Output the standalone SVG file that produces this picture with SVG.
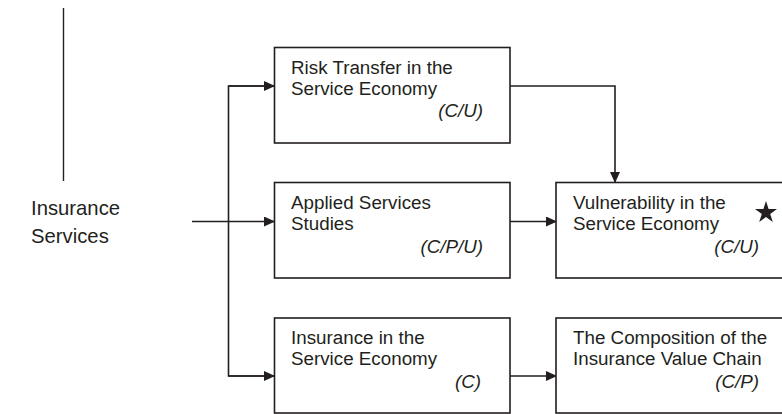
<svg xmlns="http://www.w3.org/2000/svg" width="782" height="414" viewBox="0 0 782 414">
<defs>
<marker id="ah" markerWidth="10" markerHeight="10" refX="10" refY="5" orient="auto" markerUnits="userSpaceOnUse">
<path d="M0,0 L11,5 L0,10 Z" fill="#231f20"/>
</marker>
<style>
.box{fill:#fff;stroke:#231f20;stroke-width:1.6}
.t{font-family:"Liberation Sans",Arial,sans-serif;font-size:18.8px;fill:#231f20}
.i{font-family:"Liberation Sans",Arial,sans-serif;font-size:18.8px;font-style:italic;fill:#231f20;text-anchor:end}
.c{fill:none;stroke:#231f20;stroke-width:1.6}
</style>
</defs>
<rect width="782" height="414" fill="#fff"/>
<line x1="63.5" y1="8" x2="63.5" y2="181" stroke="#231f20" stroke-width="1.4"/>
<text class="t" x="31" y="215" style="font-size:20.3px">Insurance</text>
<text class="t" x="31" y="243" style="font-size:20.3px">Services</text>
<g id="connectors">
<line class="c" x1="192" y1="221.5" x2="274" y2="221.5" marker-end="url(#ah)"/>
<polyline class="c" points="274,86 228.5,86 228.5,376 274,376"/>
<line class="c" x1="228.5" y1="86" x2="274" y2="86" marker-end="url(#ah)"/>
<line class="c" x1="228.5" y1="376" x2="274" y2="376" marker-end="url(#ah)"/>
<polyline class="c" points="510,86 615,86 615,182" marker-end="url(#ah)"/>
<line class="c" x1="510" y1="221.5" x2="556" y2="221.5" marker-end="url(#ah)"/>
<line class="c" x1="510" y1="376" x2="556" y2="376" marker-end="url(#ah)"/>
</g>
<g id="risk">
<rect class="box" x="274.5" y="47.5" width="235.5" height="95.5"/>
<text class="t" x="291" y="74">Risk Transfer in the</text>
<text class="t" x="291" y="95">Service Economy</text>
<text class="i" x="483" y="117">(C/U)</text>
</g>
<g id="applied">
<rect class="box" x="274.5" y="182.5" width="235.5" height="95.5"/>
<text class="t" x="291" y="209">Applied Services</text>
<text class="t" x="291" y="230">Studies</text>
<text class="i" x="483" y="253">(C/P/U)</text>
</g>
<g id="insurance">
<rect class="box" x="274.5" y="318" width="235.5" height="95"/>
<text class="t" x="291" y="344">Insurance in the</text>
<text class="t" x="291" y="365">Service Economy</text>
<text class="i" x="481" y="388">(C)</text>
</g>
<g id="vulnerability">
<rect class="box" x="556" y="182.5" width="236" height="95.5"/>
<text class="t" x="573" y="209">Vulnerability in the</text>
<text class="t" x="573" y="230">Service Economy</text>
<text class="i" x="759" y="253">(C/U)</text>
<polygon points="766,201 768.6,209 777,209 770.2,214 772.8,222 766,217 759.2,222 761.8,214 755,209 763.4,209" fill="#231f20"/>
</g>
<g id="composition">
<rect class="box" x="556" y="318" width="236" height="95"/>
<text class="t" x="573" y="344">The Composition of the</text>
<text class="t" x="573" y="365">Insurance Value Chain</text>
<text class="i" x="759" y="388">(C/P)</text>
</g>
</svg>
